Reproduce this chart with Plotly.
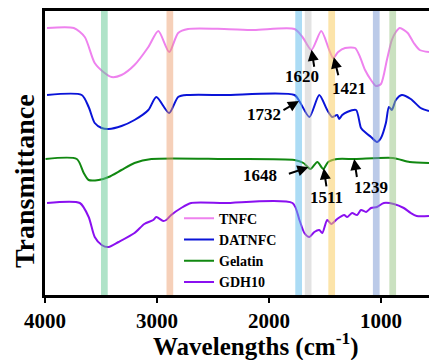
import numpy as np
import plotly.graph_objects as go

# FTIR spectra (wavenumber in cm-1, transmittance with vertical offsets, a.u.)
tnfc_wn = [3982, 3743, 3645, 3556, 3467, 3405, 3317, 3201, 3077, 2988, 2891, 2811, 2722,
           2400, 2136, 1772, 1701, 1621, 1533, 1462, 1426, 1382, 1320, 1231, 1187, 1142,
           1089, 1045, 1000, 947, 903, 867, 832, 761, 707, 654, 571]
tnfc_t = [267, 267, 258, 232, 222, 218, 220, 230, 248, 264, 243, 262, 266,
          266, 265, 266, 258, 245, 264, 245, 237, 243, 247, 247, 238, 225,
          215, 209, 211, 235, 255, 263, 267, 262, 252, 245, 243]

datnfc_wn = [3982, 3672, 3610, 3556, 3494, 3432, 3317, 3201, 3077, 3006, 2891, 2811, 2722,
             2400, 1772, 1719, 1639, 1551, 1480, 1435, 1391, 1373, 1346, 1302, 1222, 1178,
             1133, 1089, 1036, 1000, 956, 929, 903, 867, 814, 734, 645, 571]
datnfc_t = [200, 200, 188, 172, 167, 166, 169, 175, 185, 198, 182, 198, 200,
            200, 200, 192, 178, 200, 185, 178, 180, 176, 180, 183, 185, 167,
            162, 158, 153, 157, 172, 188, 185, 195, 200, 196, 187, 184]

gelatin_wn = [3995, 3716, 3654, 3610, 3521, 3432, 3317, 3201, 3050, 2400, 1772, 1692,
              1630, 1568, 1515, 1471, 1391, 1231, 894, 743, 571]
gelatin_t = [136, 136, 122, 115, 115, 118, 125, 132, 136, 136, 135, 132,
             126, 133, 126, 133, 136, 136, 137, 133, 132]

gdh10_wn = [3982, 3689, 3610, 3556, 3494, 3432, 3343, 3201, 3113, 3033, 3006, 2944, 2917,
            2873, 2784, 2695, 2400, 1790, 1728, 1684, 1639, 1595, 1551, 1524, 1480, 1444,
            1391, 1329, 1302, 1258, 1213, 1178, 1133, 1089, 1036, 974, 885, 796, 734,
            681, 571]
gdh10_t = [92, 92, 78, 58, 50, 48, 53, 62, 71, 75, 78, 74, 75,
           80, 87, 92, 92, 92, 75, 62, 58, 63, 65, 62, 75, 71,
           76, 80, 78, 82, 80, 85, 83, 87, 88, 92, 91, 87, 82,
           79, 79]

series_names = ["TNFC", "DATNFC", "Gelatin", "GDH10"]
series_colors = ["#ee82ee", "#0a14d8", "#118811", "#8a10f0"]

# Highlighted absorption bands (cm-1) and their tints
band_centers = [3470, 2885, 1735, 1650, 1440, 1042, 895]
band_colors = ["rgba(95,200,145,0.50)", "rgba(235,150,100,0.45)",
               "rgba(90,185,235,0.50)", "rgba(185,185,185,0.40)",
               "rgba(250,205,100,0.55)", "rgba(120,150,210,0.50)",
               "rgba(150,195,130,0.50)"]
band_half_width = 30

# Peak labels: (wavenumber, series index)
peak_labels = [(1620, 0), (1421, 0), (1732, 1), (1648, 2), (1511, 2), (1239, 2)]

spectra = [(tnfc_wn, tnfc_t), (datnfc_wn, datnfc_t), (gelatin_wn, gelatin_t), (gdh10_wn, gdh10_t)]

fig = go.Figure()
for (wn, t), name, color in zip(spectra, series_names, series_colors):
    fig.add_trace(go.Scatter(x=wn, y=t, mode="lines", name=name,
                             line=dict(color=color, width=2, shape="spline", smoothing=0.7)))

for c, col in zip(band_centers, band_colors):
    fig.add_shape(type="rect", xref="x", yref="paper", x0=c - band_half_width,
                  x1=c + band_half_width, y0=0, y1=1, fillcolor=col,
                  line=dict(width=0), layer="above")

serif = "'Times New Roman', Times, 'Liberation Serif', Tinos, serif"

# arrow tail offsets (px) and label offsets (px) relative to each marked peak
arrow_tail = {1620: (3, 19), 1421: (5, 20), 1732: (-17, 10), 1648: (-21, 7), 1511: (3, 20), 1239: (3, 20)}
text_shift = {1620: (-10, -27), 1421: (15, -31), 1732: (-35, -13), 1648: (-48, -8), 1511: (3, -29), 1239: (17, -28)}

for wn_peak, idx in peak_labels:
    wn, t = spectra[idx]
    y_peak = float(np.interp(wn_peak, wn[::-1], t[::-1]))
    ax, ay = arrow_tail[wn_peak]
    fig.add_annotation(x=wn_peak, y=y_peak, xref="x", yref="y", text=" ", showarrow=True,
                       ax=ax, ay=ay, arrowhead=2, arrowsize=1.1, arrowwidth=2, arrowcolor="black",
                       font=dict(size=1))
    dx, dy = text_shift[wn_peak]
    fig.add_annotation(x=wn_peak, y=y_peak, xref="x", yref="y", text="<b>%d</b>" % wn_peak,
                       showarrow=False, xshift=dx, yshift=dy,
                       font=dict(family=serif, size=17, color="black"))

fig.add_annotation(text="<b>Transmittance</b>", xref="paper", yref="paper", x=-0.053, y=0.40,
                   textangle=-90, showarrow=False, xanchor="center", yanchor="middle",
                   font=dict(family=serif, size=28, color="black"))
fig.add_annotation(text="<b>Wavelengths (cm<sup>-1</sup>)</b>", xref="paper", yref="paper",
                   x=0.55, y=-0.175, showarrow=False, xanchor="center", yanchor="middle",
                   font=dict(family=serif, size=25, color="black"))

fig.update_layout(
    width=429, height=360,
    margin=dict(l=45, r=0, t=11, b=65),
    paper_bgcolor="white", plot_bgcolor="white",
    showlegend=True,
    legend=dict(x=0.349, y=0.325, xanchor="left", yanchor="top", bgcolor="rgba(0,0,0,0)",
                font=dict(family=serif, size=14, color="black", weight="bold"),
                tracegroupgap=0, itemwidth=30),
    xaxis=dict(range=[4000, 571], showgrid=False, zeroline=False, showline=True,
               linecolor="black", linewidth=3, mirror=True, ticks="outside",
               ticklen=5, tickwidth=2, tickcolor="black", tickvals=[4000, 3000, 2000, 1000],
               tickfont=dict(family=serif, size=21, color="black", weight="bold")),
    yaxis=dict(range=[0, 284], showgrid=False, zeroline=False, showline=True,
               linecolor="black", linewidth=3, mirror=False, showticklabels=False,
               ticks=""),
)

fig.write_html("out.html")
